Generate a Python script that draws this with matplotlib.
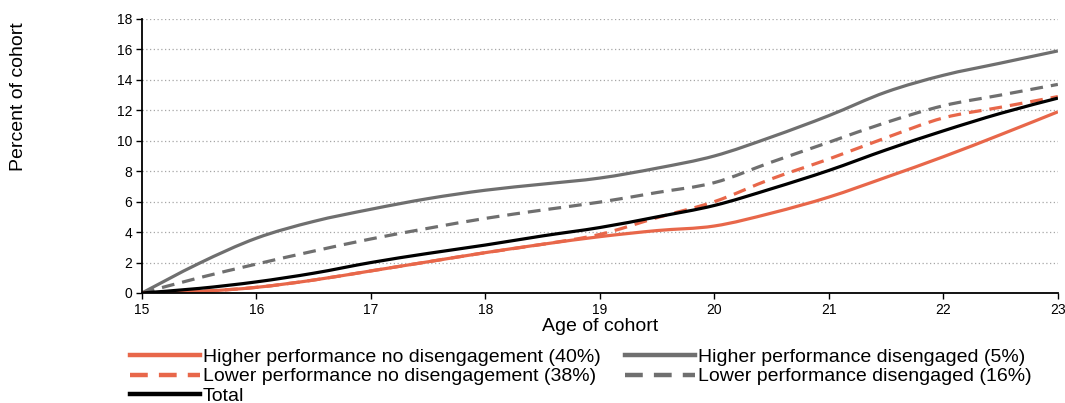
import numpy as np
import matplotlib
matplotlib.use("Agg")
import matplotlib.pyplot as plt
from matplotlib.path import Path
from matplotlib.patches import PathPatch
from matplotlib.lines import Line2D

plt.rcParams['font.family'] = ['Liberation Sans', 'DejaVu Sans']

ages = [15, 15.5, 16, 16.5, 17, 17.5, 18, 18.5, 19, 19.5, 20, 20.5, 21, 21.5, 22, 22.5, 23]
higher_no_dis = [0, 0.1, 0.37, 0.85, 1.45, 2.05, 2.65, 3.2, 3.7, 4.1, 4.4, 5.25, 6.3, 7.6, 8.95, 10.4, 11.9]
higher_dis = [0, 1.95, 3.6, 4.7, 5.5, 6.2, 6.75, 7.15, 7.55, 8.2, 9.0, 10.25, 11.65, 13.2, 14.3, 15.1, 15.9]
lower_no_dis = [0, 0.1, 0.37, 0.85, 1.45, 2.05, 2.65, 3.2, 3.85, 4.95, 6.0, 7.5, 8.8, 10.2, 11.5, 12.2, 12.9]
lower_dis = [0, 1.0, 1.9, 2.75, 3.55, 4.25, 4.9, 5.45, 5.97, 6.6, 7.25, 8.6, 9.9, 11.2, 12.3, 13.0, 13.7]
total = [0, 0.3, 0.73, 1.3, 2.0, 2.6, 3.15, 3.75, 4.3, 5.0, 5.75, 6.85, 8.05, 9.4, 10.65, 11.8, 12.8]

labels = ["Higher performance no disengagement (40%)", "Lower performance no disengagement (38%)",
          "Total", "Higher performance disengaged (5%)", "Lower performance disengaged (16%)"]

ORANGE = "#e8674a"
GREY = "#6f6f6f"


def smooth_path(x, y):
    # excel-like smoothed line: catmull-rom segments as cubic beziers
    p = np.column_stack([x, y]).astype(float)
    ext = np.vstack([p[0], p, p[-1]])
    verts = [p[0]]
    codes = [Path.MOVETO]
    for i in range(len(p) - 1):
        p0, p1, p2, p3 = ext[i], ext[i + 1], ext[i + 2], ext[i + 3]
        verts += [p1 + (p2 - p0) / 6, p2 - (p3 - p1) / 6, p2]
        codes += [Path.CURVE4] * 3
    return Path(verts, codes)


fig = plt.figure(figsize=(10.65, 4.03), dpi=100)
ax = fig.add_axes([0.1333, 0.273, 0.86, 0.680])

series = [
    (higher_no_dis, ORANGE, "-"),
    (lower_no_dis, ORANGE, (0, (4, 2.5))),
    (total, "black", "-"),
    (higher_dis, GREY, "-"),
    (lower_dis, GREY, (0, (4, 2.5))),
]
# grey first, then orange, black last
for idx in [3, 4, 0, 1, 2]:
    y, c, ls = series[idx]
    ax.add_patch(PathPatch(smooth_path(ages, y), fill=False, edgecolor=c,
                           linestyle=ls, linewidth=2.3, capstyle="butt"))

ax.set_xlim(15, 23)
ax.set_ylim(0, 18)
ax.set_xticks(range(15, 24))
ax.set_yticks(range(0, 19, 2))
ax.tick_params(labelsize=10, length=4, width=1, direction="out", pad=3)
ax.yaxis.grid(True, linestyle=(0, (1, 2)), color="#a6a6a6", linewidth=0.9)
ax.set_axisbelow(True)
for s in ["top", "right"]:
    ax.spines[s].set_visible(False)
for s in ["left", "bottom"]:
    ax.spines[s].set_linewidth(1.3)

ax.set_xlabel("Age of cohort", fontsize=14, labelpad=1)
fig.text(19 / 1065, 1 - 97 / 403, "Percent of cohort", rotation=90,
         ha="center", va="center", fontsize=14)

handles = [Line2D([], [], color=c, linestyle=ls, linewidth=3.2) for _, c, ls in series]
fig.legend(handles, labels, loc="upper left", bbox_to_anchor=(0.122, 0.135),
           ncol=2, frameon=False, fontsize=14, handlelength=3.6,
           handletextpad=0.15, columnspacing=1.25, labelspacing=0.08,
           borderaxespad=0, borderpad=0)

fig.savefig("out.png", dpi=100)
